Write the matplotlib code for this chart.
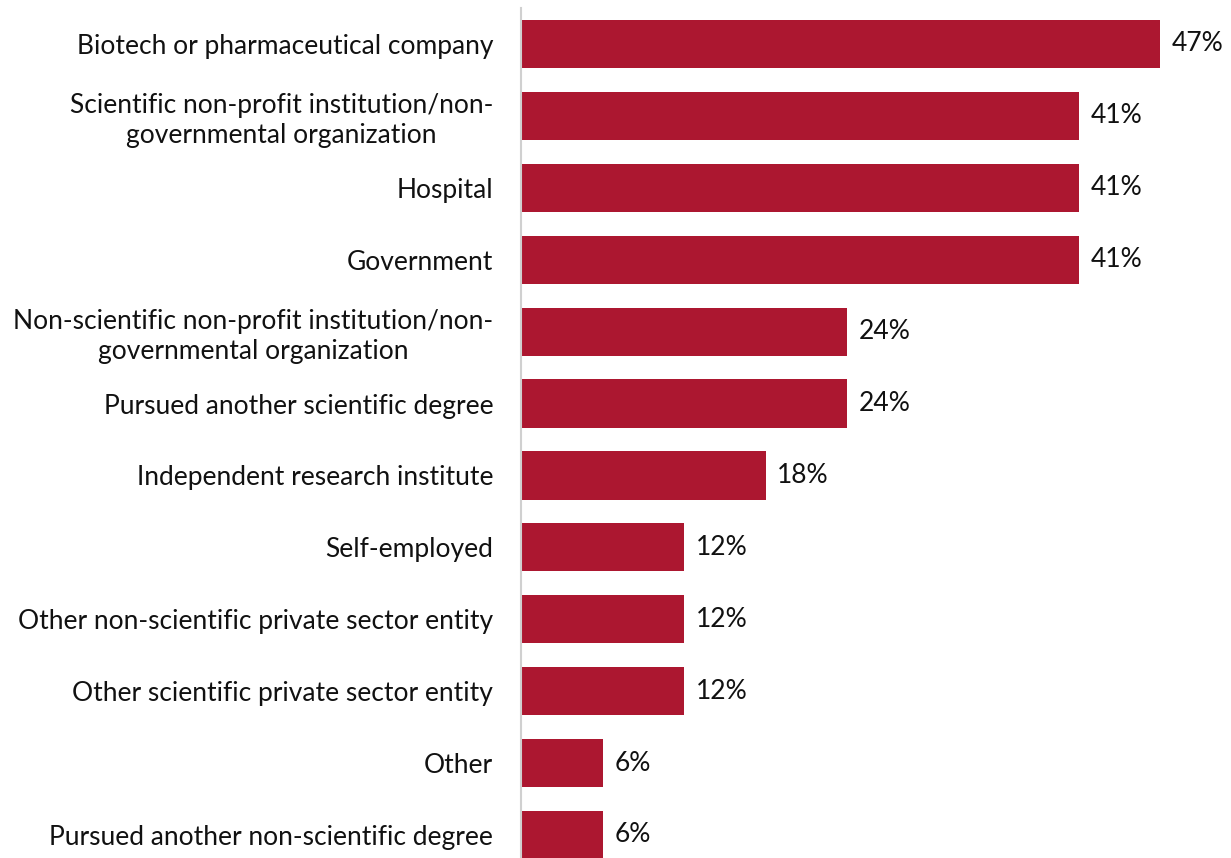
import matplotlib.pyplot as plt

plt.rcParams['font.family'] = ['Lato', 'DejaVu Sans']

categories = [
    'Biotech or pharmaceutical company',
    'Scientific non-profit institution/non-\ngovernmental organization',
    'Hospital',
    'Government',
    'Non-scientific non-profit institution/non-\ngovernmental organization',
    'Pursued another scientific degree',
    'Independent research institute',
    'Self-employed',
    'Other non-scientific private sector entity',
    'Other scientific private sector entity',
    'Other',
    'Pursued another non-scientific degree',
]
values = [47, 41, 41, 41, 24, 24, 18, 12, 12, 12, 6, 6]

fig = plt.figure(figsize=(12.31, 8.58), dpi=100)
ax = fig.add_axes([0.4232, 0.0, 0.5768, 0.9907])

pos = range(len(categories))
ax.barh(pos, values, height=0.67, color='#AC1730')
for y, v in zip(pos, values):
    ax.text(v + 0.85, y, f'{v}%', va='center', ha='left', fontsize=19, color='#111111')

ax.set_xlim(0, 52.2)
ax.set_ylim(11.32, -0.5)
ax.set_yticks(list(pos))
ax.set_yticklabels(categories, fontsize=19, color='#111111')
for lbl in ax.get_yticklabels():
    lbl.set_multialignment('center')
    lbl.set_linespacing(1.25)
ax.tick_params(axis='y', length=0, pad=20)
ax.set_xticks([])
for side in ['top', 'right', 'bottom']:
    ax.spines[side].set_visible(False)
ax.spines['left'].set_color('#D0D0D0')
ax.spines['left'].set_linewidth(1.5)

fig.savefig('out.png', dpi=100)
